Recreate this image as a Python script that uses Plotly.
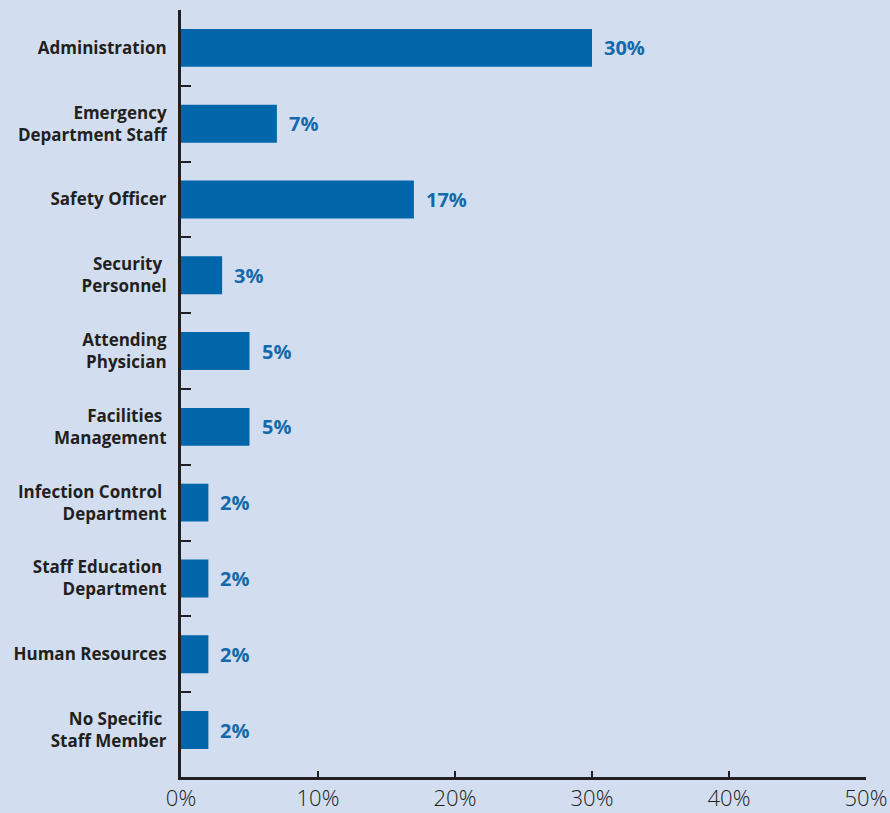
import plotly.graph_objects as go

categories = [
    "Administration",
    "Emergency<br>Department Staff",
    "Safety Officer",
    "Security <br>Personnel",
    "Attending<br>Physician",
    "Facilities <br>Management",
    "Infection Control <br>Department",
    "Staff Education <br>Department",
    "Human Resources",
    "No Specific <br>Staff Member",
]
values = [30, 7, 17, 3, 5, 5, 2, 2, 2, 2]
x_tick_vals = [0, 10, 20, 30, 40, 50]
x_tick_text = ["0%", "10%", "20%", "30%", "40%", "50%"]

BG = "#d2deef"
BAR = "#0066aa"
LABEL_BLUE = "#1469ad"
DARK = "#231f20"

fig = go.Figure()
fig.add_trace(go.Bar(
    x=values,
    y=categories,
    orientation="h",
    marker=dict(color=BAR, line=dict(width=0)),
    hoverinfo="skip",
))

for v, c in zip(values, categories):
    fig.add_annotation(
        x=v, y=c, text=f"{v}%", showarrow=False,
        xanchor="left", yanchor="middle", xshift=10,
        font=dict(family="Open Sans", size=20, color=LABEL_BLUE, weight="bold"),
    )

fig.update_layout(
    width=890, height=813,
    margin=dict(l=181, r=24, t=10, b=36),
    paper_bgcolor=BG, plot_bgcolor=BG,
    bargap=0.5,
    showlegend=False,
)

fig.update_xaxes(
    range=[0, 50],
    tickvals=x_tick_vals,
    ticktext=x_tick_text,
    ticks="inside", ticklen=6, tickwidth=1.5, tickcolor=DARK,
    showline=True, linewidth=3, linecolor=DARK,
    showgrid=False, zeroline=False,
    tickfont=dict(family="Open Sans", size=22, color=DARK, weight=300),
    ticklabelstandoff=0,
    automargin=False,
)

fig.update_yaxes(
    type="category",
    categoryorder="array", categoryarray=categories,
    range=[9.62, -0.5],
    tickson="boundaries",
    ticks="inside", ticklen=10, tickwidth=1.5, tickcolor=DARK,
    showline=True, linewidth=3, linecolor=DARK,
    showgrid=False, zeroline=False,
    tickfont=dict(family="Open Sans", size=17, color=DARK, weight="bold"),
    ticklabelstandoff=8,
    automargin=False,
)

fig.write_html("out.html")
